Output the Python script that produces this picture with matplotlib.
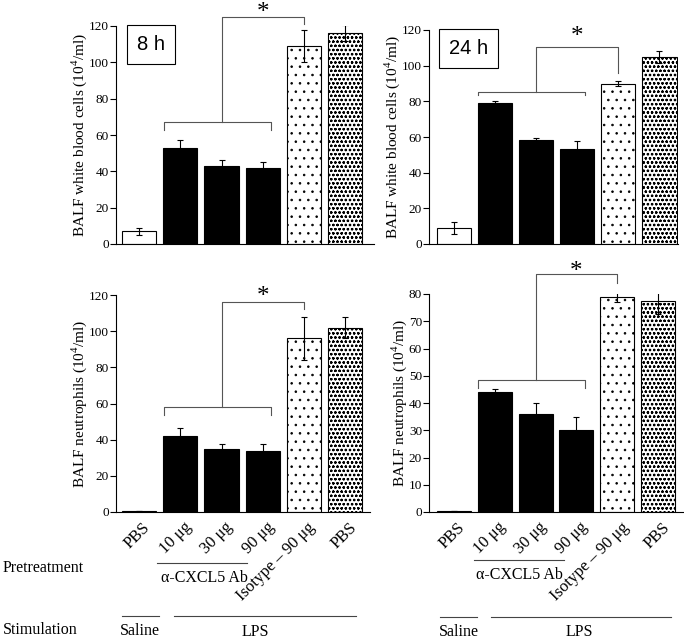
import matplotlib
matplotlib.use('Agg')
import matplotlib.pyplot as plt
import numpy as np

plt.rcParams['font.family'] = ['Liberation Serif', 'DejaVu Serif']
plt.rcParams['mathtext.fontset'] = 'custom'
plt.rcParams['mathtext.rm'] = 'Liberation Serif'
plt.rcParams['hatch.linewidth'] = 0.6

# data
groups = ['PBS', '10 μg', '30 μg', '90 μg', 'Isotype – 90 μg', 'PBS']
wbc_8h = [7, 53, 43, 42, 109, 116]
wbc_8h_err = [2, 4.5, 3.5, 3, 9, 4.5]
wbc_24h = [9, 79, 58.5, 53, 90, 105]
wbc_24h_err = [3.5, 1.2, 1.2, 4.5, 1.5, 3.5]
neu_8h = [0.3, 42, 35, 33.5, 96, 102]
neu_8h_err = [0, 4.5, 2.7, 4.3, 12, 6]
neu_24h = [0.2, 44, 36, 30, 79, 77.5]
neu_24h_err = [0, 1.2, 4, 5, 2, 5]

W, H = 684, 641
fig = plt.figure(figsize=(W / 100, H / 100), dpi=100)


def px_axes(x0, x1, ybot, ytop):
    return fig.add_axes([x0 / W, 1 - ybot / H, (x1 - x0) / W, (ybot - ytop) / H])


def draw_panel(ax, vals, errs, ymax, ystep, xlim, ylabel, bracket, label=None):
    x = np.arange(len(vals))
    faces = ['white', 'black', 'black', 'black', 'white', 'white']
    hatches = [None, None, None, None, '..', 'oooo']
    for i in range(len(vals)):
        ax.bar(x[i], vals[i], width=0.83, color=faces[i], edgecolor='black',
               linewidth=0.8, hatch=hatches[i], zorder=2)
    ax.errorbar(x, vals, yerr=errs, fmt='none', ecolor='black', elinewidth=0.8,
                capsize=2, capthick=0.8, zorder=3)
    ax.set_xlim(*xlim)
    ax.set_ylim(0, ymax)
    ax.set_yticks(np.arange(0, ymax + 0.1, ystep))
    ax.set_xticks([])
    for s in ['top', 'right']:
        ax.spines[s].set_visible(False)
    ax.spines['left'].set_linewidth(0.8)
    ax.spines['bottom'].set_linewidth(0.8)
    ax.tick_params(axis='y', direction='out', length=4, width=0.8, labelsize=9.5, pad=1)
    ax.set_ylabel(ylabel, fontsize=11, labelpad=0)

    # significance bracket
    yb, ytick, ytop, yend, ystar = bracket
    kw = dict(color='#555555', lw=0.8, clip_on=False)
    ax.plot([0.6, 0.6, 3.2, 3.2], [ytick, yb, yb, ytick], **kw)
    ax.plot([2, 2, 4, 4], [yb, ytop, ytop, yend], **kw)
    ax.text(3, ystar, '*', ha='center', va='center', fontsize=18, clip_on=False)

    if label:
        ax.text(0.08, 0.915, label, transform=ax.transAxes, family='Liberation Sans',
                fontsize=14.5, ha='left', va='center',
                bbox=dict(boxstyle='square,pad=0.5', facecolor='white', edgecolor='black', lw=0.8))


ax1 = px_axes(116, 374, 244, 26)
draw_panel(ax1, wbc_8h, wbc_8h_err, 120, 20, (-0.56, 5.7),
           'BALF white blood cells (10$^4$/ml)', (67.3, 62.7, 125, 121, 127.2), '8 h')
ax2 = px_axes(429, 678, 244, 30)
draw_panel(ax2, wbc_24h, wbc_24h_err, 120, 20, (-0.6, 5.45),
           'BALF white blood cells (10$^4$/ml)', (85.2, 83.3, 110.7, 96, 115.8), '24 h')
ax3 = px_axes(116, 370, 512, 295)
draw_panel(ax3, neu_8h, neu_8h_err, 120, 20, (-0.56, 5.6),
           'BALF neutrophils (10$^4$/ml)', (58, 53.6, 116, 112.5, 118.8))
ax4 = px_axes(429, 683, 512, 294)
draw_panel(ax4, neu_24h, neu_24h_err, 80, 10, (-0.6, 5.6),
           'BALF neutrophils (10$^4$/ml)', (48.4, 45.4, 87.2, 84.1, 88))

# rotated group labels under bottom panels
for ax in (ax3, ax4):
    for i, g in enumerate(groups):
        ax.text(i + 0.08, -4 * ax.get_ylim()[1] / 120, g, rotation=45, ha='right', va='top',
                rotation_mode='anchor', fontsize=12, clip_on=False)


# pretreatment / stimulation annotations in figure pixels
def hline(x0, x1, y):
    fig.add_artist(plt.Line2D([x0 / W, x1 / W], [1 - y / H, 1 - y / H], color='#444444', lw=0.8))


def ftext(x, y, s, ha='left'):
    fig.text(x / W, 1 - y / H, s, ha=ha, va='center', fontsize=11.5)


ftext(3, 568, 'Pretreatment')
ftext(3, 630, 'Stimulation')
hline(157, 247, 563)
ftext(204, 578, 'α-CXCL5 Ab', ha='center')
hline(474, 564, 560)
ftext(519, 575, 'α-CXCL5 Ab', ha='center')

hline(122, 159, 616)
hline(174, 356, 616)
ftext(140, 631, 'Saline', ha='center')
ftext(255, 632, 'LPS', ha='center')
hline(440, 477, 617)
hline(491, 671, 617)
ftext(459, 632, 'Saline', ha='center')
ftext(579, 632, 'LPS', ha='center')

fig.savefig('out.png', dpi=100)
